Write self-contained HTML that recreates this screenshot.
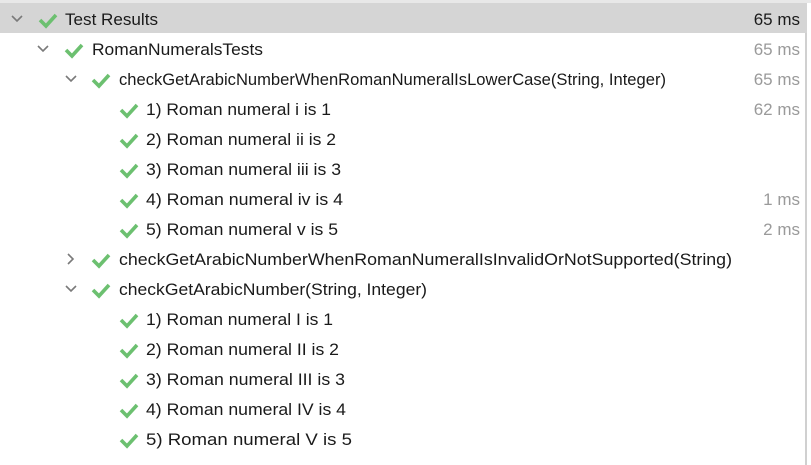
<!DOCTYPE html>
<html><head><meta charset="utf-8"><style>
html,body{margin:0;padding:0;background:#fff;width:811px;height:465px;overflow:hidden}
svg text{font-family:"Liberation Sans",sans-serif;font-size:17px;fill:#1a1a1a}
svg text.t{fill:#9a9a9a;text-anchor:end}
</style></head><body>
<svg width="811" height="465" xmlns="http://www.w3.org/2000/svg">
<defs>
<g id="ck"><path d="M0,1 L6,7 L16,-4" fill="none" stroke="#6cc070" stroke-width="3.6" stroke-linecap="butt" stroke-linejoin="miter"/></g>
<g id="dn"><path d="M-5,-3 L0,2 L5,-3" fill="none" stroke="#7a7a7a" stroke-width="1.6"/></g>
<g id="rt"><path d="M-2,-5 L3,0 L-2,5" fill="none" stroke="#7a7a7a" stroke-width="1.6"/></g>
</defs>
<rect x="0" y="0" width="811" height="3" fill="#e8e8e8"/>
<rect x="0" y="3" width="807" height="30" fill="#d5d5d5"/>
<rect x="805" y="33" width="2" height="432" fill="#d0d0d0"/>

<use href="#dn" x="17" y="19"/><use href="#ck" x="40" y="19"/>
<text x="65" y="25" textLength="93" lengthAdjust="spacingAndGlyphs">Test Results</text>
<text x="800" y="25" style="text-anchor:end">65 ms</text>

<use href="#dn" x="43" y="49"/><use href="#ck" x="66" y="49"/>
<text x="92" y="55" textLength="171" lengthAdjust="spacingAndGlyphs">RomanNumeralsTests</text>
<text class="t" x="800" y="55">65 ms</text>

<use href="#dn" x="71" y="79"/><use href="#ck" x="93" y="79"/>
<text x="119" y="85" textLength="547" lengthAdjust="spacingAndGlyphs">checkGetArabicNumberWhenRomanNumeralIsLowerCase(String, Integer)</text>
<text class="t" x="800" y="85">65 ms</text>

<use href="#ck" x="121" y="109"/><text x="146" y="115" textLength="185" lengthAdjust="spacingAndGlyphs">1) Roman numeral i is 1</text><text class="t" x="800" y="115">62 ms</text>
<use href="#ck" x="121" y="139"/><text x="146" y="145" textLength="190" lengthAdjust="spacingAndGlyphs">2) Roman numeral ii is 2</text>
<use href="#ck" x="121" y="169"/><text x="146" y="175" textLength="195" lengthAdjust="spacingAndGlyphs">3) Roman numeral iii is 3</text>
<use href="#ck" x="121" y="199"/><text x="146" y="205" textLength="197" lengthAdjust="spacingAndGlyphs">4) Roman numeral iv is 4</text><text class="t" x="800" y="205">1 ms</text>
<use href="#ck" x="121" y="229"/><text x="146" y="235" textLength="192" lengthAdjust="spacingAndGlyphs">5) Roman numeral v is 5</text><text class="t" x="800" y="235">2 ms</text>

<use href="#rt" x="70" y="259"/><use href="#ck" x="93" y="259"/>
<text x="119" y="265" textLength="613" lengthAdjust="spacingAndGlyphs">checkGetArabicNumberWhenRomanNumeralIsInvalidOrNotSupported(String)</text>

<use href="#dn" x="71" y="289"/><use href="#ck" x="93" y="289"/>
<text x="119" y="295" textLength="308" lengthAdjust="spacingAndGlyphs">checkGetArabicNumber(String, Integer)</text>

<use href="#ck" x="121" y="319"/><text x="146" y="325" textLength="187" lengthAdjust="spacingAndGlyphs">1) Roman numeral I is 1</text>
<use href="#ck" x="121" y="349"/><text x="146" y="355" textLength="193" lengthAdjust="spacingAndGlyphs">2) Roman numeral II is 2</text>
<use href="#ck" x="121" y="379"/><text x="146" y="385" textLength="199" lengthAdjust="spacingAndGlyphs">3) Roman numeral III is 3</text>
<use href="#ck" x="121" y="409"/><text x="146" y="415" textLength="200" lengthAdjust="spacingAndGlyphs">4) Roman numeral IV is 4</text>
<use href="#ck" x="121" y="439"/><text x="146" y="445" textLength="206" lengthAdjust="spacingAndGlyphs">5) Roman numeral V is 5</text>
</svg>
</body></html>
